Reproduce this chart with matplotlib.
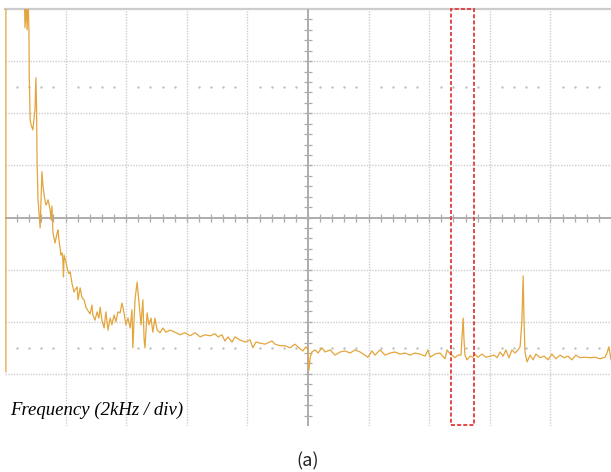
import numpy as np
import matplotlib
matplotlib.use('Agg')
from matplotlib import pyplot as plt
from matplotlib.patches import Rectangle

# spectrum trace, frequency in kHz (2 kHz / div), amplitude in divisions (0..8)
freq = [0.03, 0.03, 0.63, 0.66, 0.70, 0.73, 0.76, 0.79, 0.80, 0.83, 0.86, 0.92, 0.99, 1.02, 1.04,
        1.06, 1.09, 1.16, 1.22, 1.25, 1.29, 1.35, 1.39, 1.42, 1.49, 1.52, 1.55, 1.58, 1.65, 1.72,
        1.75, 1.78, 1.85, 1.88, 1.91, 1.93, 1.95, 2.01, 2.05, 2.11, 2.15, 2.21, 2.28, 2.31, 2.38,
        2.41, 2.48, 2.54, 2.61, 2.67, 2.74, 2.81, 2.87, 2.90, 2.97, 3.04, 3.10, 3.14, 3.20, 3.27,
        3.33, 3.40, 3.47, 3.53, 3.60, 3.66, 3.73, 3.80, 3.86, 3.93, 3.99, 4.06, 4.13, 4.19, 4.22,
        4.29, 4.36, 4.42, 4.49, 4.55, 4.59, 4.62, 4.69, 4.75, 4.82, 4.88, 4.95, 5.02, 5.12, 5.21,
        5.31, 5.45, 5.61, 5.78, 5.94, 6.11, 6.27, 6.44, 6.60, 6.77, 6.93, 7.03, 7.16, 7.26, 7.36,
        7.49, 7.59, 7.76, 7.92, 8.09, 8.18, 8.28, 8.42, 8.58, 8.81, 8.91, 9.08, 9.24, 9.41, 9.57,
        9.74, 9.83, 9.93, 10.00, 10.03, 10.07, 10.13, 10.23, 10.33, 10.46, 10.56, 10.73, 10.89, 11.06, 11.22,
        11.39, 11.55, 11.72, 11.98, 12.11, 12.21, 12.38, 12.54, 12.71, 12.87, 13.04, 13.20, 13.37, 13.53, 13.70,
        13.86, 13.96, 14.03, 14.19, 14.36, 14.52, 14.59, 14.69, 14.75, 14.85, 14.95, 15.05, 15.08, 15.12, 15.15,
        15.18, 15.25, 15.35, 15.45, 15.51, 15.61, 15.74, 15.87, 16.01, 16.14, 16.24, 16.34, 16.44, 16.53, 16.63,
        16.73, 16.83, 16.93, 17.00, 17.06, 17.10, 17.13, 17.16, 17.23, 17.33, 17.43, 17.52, 17.66, 17.79, 17.92,
        18.05, 18.18, 18.32, 18.45, 18.58, 18.71, 18.84, 18.98, 19.14, 19.31, 19.47, 19.64, 19.80, 19.87, 19.93,
        20.00]
amp = [1.04, 8.50, 8.50, 7.64, 8.10, 7.60, 8.20, 7.60, 6.74, 5.87, 5.78, 5.68, 6.07, 6.68, 6.16,
       5.01, 4.34, 3.80, 4.88, 4.63, 4.43, 4.24, 4.28, 4.34, 4.15, 3.95, 4.22, 3.72, 3.51, 3.70,
       3.76, 3.57, 3.28, 3.32, 3.19, 2.86, 3.28, 3.15, 3.03, 2.92, 2.96, 2.74, 2.57, 2.61, 2.67,
       2.42, 2.65, 2.46, 2.42, 2.28, 2.21, 2.15, 2.32, 2.13, 2.03, 2.19, 2.07, 2.28, 2.03, 1.88,
       2.19, 1.84, 2.07, 1.94, 2.13, 2.00, 2.19, 2.17, 2.36, 2.17, 1.94, 2.07, 1.88, 2.23, 1.50,
       2.42, 2.76, 2.38, 1.94, 2.42, 1.67, 1.50, 2.17, 1.94, 2.07, 1.80, 2.07, 1.84, 1.79, 1.88,
       1.80, 1.84, 1.80, 1.75, 1.79, 1.73, 1.79, 1.71, 1.75, 1.73, 1.77, 1.71, 1.75, 1.63, 1.71,
       1.61, 1.71, 1.65, 1.61, 1.65, 1.50, 1.61, 1.59, 1.57, 1.63, 1.57, 1.54, 1.54, 1.50, 1.57,
       1.48, 1.44, 1.52, 1.46, 1.07, 1.31, 1.42, 1.46, 1.40, 1.50, 1.42, 1.46, 1.36, 1.42, 1.44,
       1.40, 1.46, 1.42, 1.32, 1.44, 1.36, 1.46, 1.36, 1.40, 1.42, 1.38, 1.40, 1.36, 1.40, 1.38,
       1.34, 1.46, 1.32, 1.38, 1.40, 1.29, 1.46, 1.38, 1.36, 1.31, 1.36, 1.36, 1.65, 2.07, 1.65,
       1.36, 1.27, 1.34, 1.32, 1.38, 1.32, 1.38, 1.32, 1.34, 1.36, 1.31, 1.42, 1.34, 1.46, 1.31,
       1.46, 1.40, 1.46, 1.52, 2.03, 2.88, 2.03, 1.42, 1.23, 1.36, 1.27, 1.38, 1.31, 1.34, 1.27,
       1.38, 1.29, 1.36, 1.31, 1.34, 1.27, 1.36, 1.31, 1.32, 1.31, 1.32, 1.29, 1.32, 1.40, 1.52,
       1.27]

# highlighted band (kHz)
box_lo, box_hi = 14.72, 15.48

fig = plt.figure(figsize=(6.11, 4.72), dpi=100)
ax = fig.add_axes([5 / 611, 46 / 472, 606 / 611, 417 / 472])
ax.set_xlim(0, 20)
ax.set_ylim(0, 8)
ax.axis('off')

grid_c = '#cdcdcd'
for gx in [2, 4, 6, 8, 12, 14, 16, 18]:
    ax.axvline(gx, color=grid_c, lw=1.0, ls=(0, (1, 1)), zorder=1)
for gy in [1, 2, 3, 5, 6, 7]:
    ax.axhline(gy, color=grid_c, lw=1.0, ls=(0, (1, 1)), zorder=1)
ax.axhline(8, color='#cccccc', lw=1.6, clip_on=False, zorder=1)

# centre cross with minor ticks
ax.axvline(10, color='#adadad', lw=1.4, zorder=1)
ax.axhline(4, color='#adadad', lw=1.4, zorder=1)
xt = np.arange(0.4, 20, 0.4)
yt = np.arange(0.2, 8, 0.2)
ax.plot(xt, np.full(len(xt), 4), ls='none', marker='|', ms=6, mew=0.9, color='#adadad', zorder=1)
ax.plot(np.full(len(yt), 10), yt, ls='none', marker='_', ms=6, mew=0.9, color='#adadad', zorder=1)

# dotted rows
dx = [v for v in np.arange(0.4, 20, 0.4) if abs(v / 2 - round(v / 2)) > 0.01]
for ry in [1.5, 6.5]:
    ax.plot(dx, np.full(len(dx), ry), ls='none', marker='.', ms=1.4, color='#bdbdbd', zorder=1)

ax.plot(freq, amp, color='#e3a53c', lw=0.9, zorder=3)

ax.add_patch(Rectangle((box_lo, 0.02), box_hi - box_lo, 7.98, fill=False, edgecolor='#e03a3a',
                       lw=1.3, ls=(0, (2.2, 1.2)), clip_on=False, zorder=4))

fig.text(10 / 611, (472 - 415) / 472, 'Frequency (2kHz / div)', family='Liberation Serif',
         style='italic', fontsize=13.5, va='baseline', ha='left')
fig.text(308 / 611, (472 - 461) / 472, '(a)', family=['Noto Sans CJK KR', 'DejaVu Sans'],
         fontsize=13, ha='center', va='center', color='#222222')

plt.savefig('out.png', dpi=100)
